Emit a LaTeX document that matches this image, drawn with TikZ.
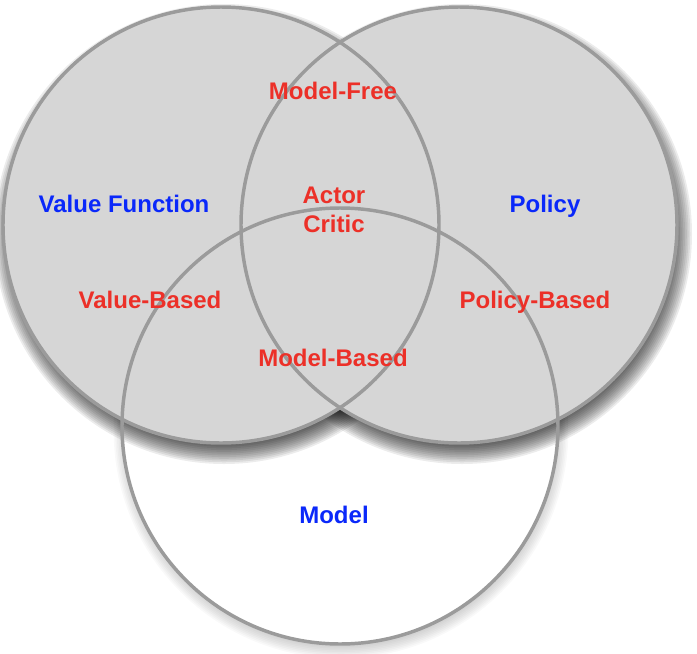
\documentclass[tikz,border=0pt]{standalone}
\usepackage{fontspec}
\setmainfont{Liberation Sans}
\usetikzlibrary{calc}
\definecolor{vfill}{RGB}{214,214,214}
\definecolor{vline}{RGB}{155,155,155}
\definecolor{lblred}{RGB}{236,48,40}
\definecolor{lblblue}{RGB}{10,40,250}
\begin{document}
\begin{tikzpicture}[x=0.75pt,y=-0.75pt,
  ring/.style={draw=vline, line width=2.6pt},
  lbl/.style={font=\bfseries\fontsize{18}{22}\selectfont, anchor=base, inner sep=0pt, align=center},
  redlbl/.style={lbl, text=lblred},
  bluelbl/.style={lbl, text=lblblue}]
\useasboundingbox (0,0) rectangle (697,654);
\coordinate (cL) at (221,225);
\coordinate (cR) at (459,225);
\coordinate (cM) at (340,426);
\def\rad{163.5pt}
% shadow of the Model circle (light)
\foreach \k in {0,...,11}
  \fill[black, opacity=0.025] ($(cM)+(1,5)$) circle ({\rad+7pt-\k*1.2pt});
\fill[white] (cM) circle (\rad);
% shadows of the two upper circles
\foreach \c in {cL,cR}
  \foreach \k in {0,...,13}
    \fill[black, opacity=0.075] ($(\c)+(3,9)$) circle ({\rad+9pt-\k*1.3pt});
\fill[vfill] (cL) circle (\rad);
\fill[vfill] (cR) circle (\rad);
% outlines
\draw[ring] (cL) circle (\rad);
\draw[ring] (cR) circle (\rad);
\draw[ring] (cM) circle (\rad);
% labels
\node[bluelbl] (vf) at (124,212) {Value Function};
\node[bluelbl] (pol) at (545,212) {Policy};
\node[bluelbl] (mod) at (334,523) {Model};
\node[redlbl] (mf) at (333,99) {Model-Free};
\node[redlbl] (act) at (334,203) {Actor};
\node[redlbl] (cri) at (334,232) {Critic};
\node[redlbl] (vb) at (150,308) {Value-Based};
\node[redlbl] (pb) at (535,308) {Policy-Based};
\node[redlbl] (mb) at (333,366) {Model-Based};
\end{tikzpicture}
\end{document}
